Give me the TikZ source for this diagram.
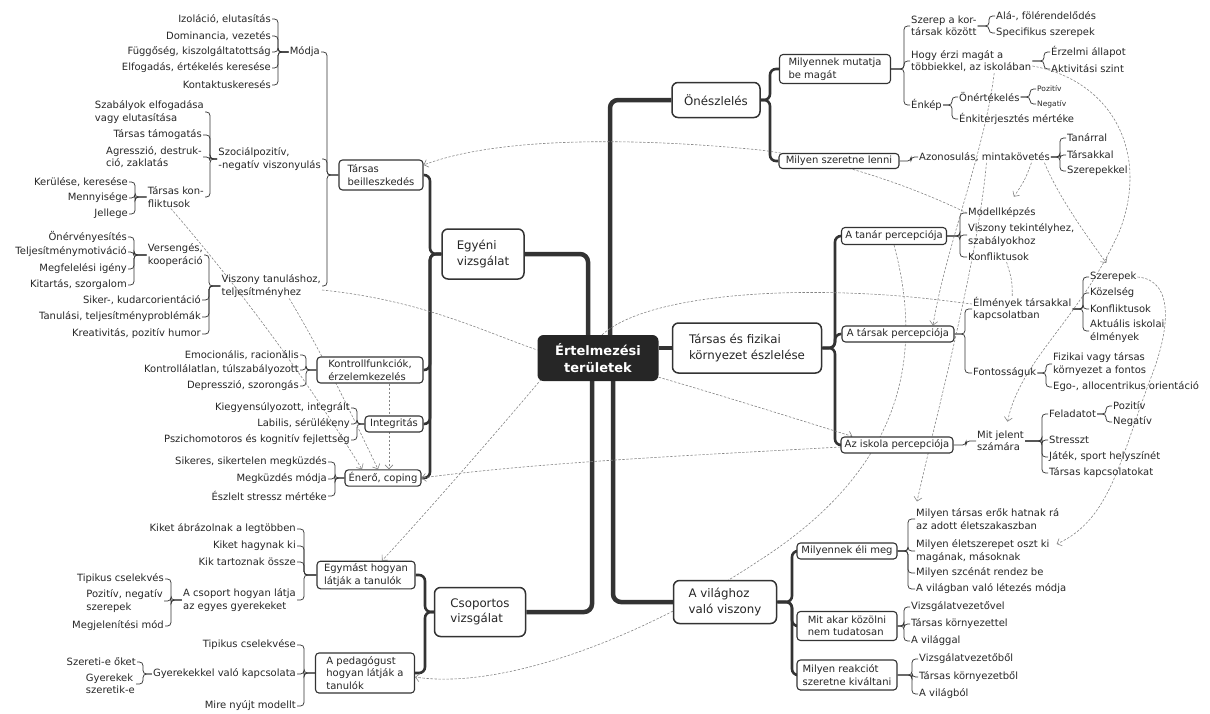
\documentclass[tikz,border=0pt]{standalone}
\usepackage{fontspec}
\setmainfont{DejaVu Sans}
\usetikzlibrary{arrows.meta}
\pgfdeclarelayer{bg}
\pgfsetlayers{bg,main}
\definecolor{ink}{HTML}{262626}
\definecolor{edge}{HTML}{333333}
\definecolor{relc}{HTML}{858585}
\tikzset{
  leaf/.style={inner sep=1pt, font=\fontsize{10}{12.5}\selectfont, text=ink, align=left},
  lR/.style={leaf, anchor=west},
  lL/.style={leaf, anchor=east},
  tinyR/.style={leaf, anchor=west, font=\fontsize{7.5}{9}\selectfont},
  mmbox/.style={draw=edge, line width=1.1pt, rounded corners=3.5pt, fill=white, inner sep=2.5pt,
     font=\fontsize{10}{12.5}\selectfont, text=ink, align=left},
  mmbig/.style={draw=edge, line width=1.5pt, rounded corners=6pt, fill=white,
     font=\fontsize{11.8}{15.5}\selectfont, text=ink, align=left},
  mmcore/.style={fill=ink, rounded corners=6pt, text=white, align=center,
     font=\bfseries\fontsize{13}{17}\selectfont, minimum width=121pt, minimum height=46pt},
  mmtrunk/.style={draw=edge, line width=4.5pt, rounded corners=8pt},
  mmlimb/.style={draw=edge, line width=2.6pt, rounded corners=6pt},
  mmbr/.style={draw=edge, line width=0.75pt, rounded corners=3.5pt},
  reln/.style={draw=relc, line width=0.6pt, dash pattern=on 2.4pt off 1.6pt},
  rel/.style={reln, -{Straight Barb[length=4pt,width=8pt]}},
}
% bracket at absolute x: parent anchor -> vertical bar -> child anchor
\newcommand\mmTwig[3]{\coordinate (bk) at (#1,0);\draw[mmbr] (#2) -- (bk |- #2) |- (#3);}
\newcommand\mmBough[3]{\coordinate (bk) at (#1,0);\draw[mmlimb] (#2) -- (bk |- #2) |- (#3);}

\begin{document}
\begin{tikzpicture}[x=1pt,y=-1pt]
\useasboundingbox (0,0) rectangle (1210,713);

% ---------- centre and first level ----------
\node[mmcore] (cen) at (598,358) {Értelmezési\\területek};
\node[mmbig, minimum width=88pt, minimum height=35pt] (onesz) at (716,100) {Önészlelés};
\node[mmbig, minimum width=82pt, minimum height=50pt] (egy) at (483,254) {Egyéni\\vizsgálat};
\node[mmbig, minimum width=149pt, minimum height=50pt] (tf) at (747,348) {Társas és fizikai\\környezet észlelése};
\node[mmbig, minimum width=91pt, minimum height=49pt] (csop) at (480,612) {Csoportos\\vizsgálat};
\node[mmbig, minimum width=103pt, minimum height=43pt] (vil) at (725,602) {A világhoz\\való viszony};

% ---------- second level boxes ----------
\node[mmbox, minimum width=84pt, minimum height=30pt] (tb) at (381,175) {Társas\\beilleszkedés};
\node[mmbox, minimum width=106pt, minimum height=26pt] (kontr) at (370,370) {Kontrollfunkciók,\\érzelemkezelés};
\node[mmbox, minimum width=58pt, minimum height=16pt] (integ) at (394,424) {Integritás};
\node[mmbox, minimum width=76pt, minimum height=16pt] (ener) at (383,478) {Énerő, coping};
\node[mmbox, minimum width=98pt, minimum height=27pt] (egym) at (366,575) {Egymást hogyan\\látják a tanulók};
\node[mmbox, minimum width=99pt, minimum height=40pt] (ped) at (365,673) {A pedagógust\\hogyan látják a\\tanulók};
\node[mmbox, minimum width=111pt, minimum height=29pt] (mm) at (835,69) {Milyennek mutatja\\be magát};
\node[mmbox, minimum width=120pt, minimum height=15pt] (msz) at (839,161) {Milyen szeretne lenni};
\node[mmbox, minimum width=105pt, minimum height=17pt] (tan) at (894,236) {A tanár percepciója};
\node[mmbox, minimum width=112pt, minimum height=16pt] (tars) at (898,334) {A társak percepciója};
\node[mmbox, minimum width=112pt, minimum height=16pt] (isk) at (897,445) {Az iskola percepciója};
\node[mmbox, minimum width=100pt, minimum height=16pt] (me) at (847,551) {Milyennek éli meg};
\node[mmbox, minimum width=100pt, minimum height=29pt] (mak) at (847,626) {Mit akar közölni\\nem tudatosan};
\node[mmbox, minimum width=100pt, minimum height=30pt] (mr) at (847,675) {Milyen reakciót\\szeretne kiváltani};

% ---------- Önészlelés leaves ----------
\node[lR] (szerep) at (910,26) {Szerep a kor-\\társak között};
\node[lR] (hogy) at (910,61) {Hogy érzi magát a\\többiekkel, az iskolában};
\node[lR] (enkep) at (910,105) {Énkép};
\node[lR] (ala) at (995,16) {Alá-, fölérendelődés};
\node[lR] (spec) at (995,33) {Specifikus szerepek};
\node[lR] (erz) at (1050,52) {Érzelmi állapot};
\node[lR] (akt) at (1050,69) {Aktivitási szint};
\node[lR] (onert) at (958,97) {Önértékelés};
\node[lR] (enkit) at (958,119) {Énkiterjesztés mértéke};
\node[tinyR] (poz1) at (1036,89) {Pozitív};
\node[tinyR] (neg1) at (1036,104) {Negatív};
\node[lR] (azon) at (918,157) {Azonosulás, mintakövetés};
\node[lR] (tanarral) at (1066,138) {Tanárral};
\node[lR] (tarsakkal) at (1066,155) {Társakkal};
\node[lR] (szerepekkel) at (1066,171) {Szerepekkel};

% ---------- környezet leaves ----------
\node[lR] (modell) at (967,213) {Modellképzés};
\node[lR] (visz) at (967,235) {Viszony tekintélyhez,\\szabályokhoz};
\node[lR] (konf1) at (967,257) {Konfliktusok};
\node[lR] (elm) at (972,309) {Élmények társakkal\\kapcsolatban};
\node[lR] (fontos) at (972,373) {Fontosságuk};
\node[lR] (szerepek) at (1089,277) {Szerepek};
\node[lR] (kozel) at (1089,293) {Közelség};
\node[lR] (konf2) at (1089,309) {Konfliktusok};
\node[lR] (aktu) at (1089,331) {Aktuális iskolai\\élmények};
\node[lR] (fiz) at (1052,364) {Fizikai vagy társas\\környezet a fontos};
\node[lR] (ego) at (1052,387) {Ego-, allocentrikus orientáció};
\node[lR] (mitj) at (976,441) {Mit jelent\\számára};
\node[lR] (felad) at (1048,414) {Feladatot};
\node[lR] (stressz) at (1048,440) {Stresszt};
\node[lR] (jatek) at (1048,457) {Játék, sport helyszínét};
\node[lR] (tkapcs) at (1048,473) {Társas kapcsolatokat};
\node[lR] (poz2) at (1112,406) {Pozitív};
\node[lR] (neg2) at (1112,422) {Negatív};

% ---------- világhoz leaves ----------
\node[lR] (ero) at (915,519) {Milyen társas erők hatnak rá\\az adott életszakaszban};
\node[lR] (elet) at (915,551) {Milyen életszerepet oszt ki\\magának, másoknak};
\node[lR] (szcena) at (915,573) {Milyen szcénát rendez be};
\node[lR] (letezes) at (915,589) {A világban való létezés módja};
\node[lR] (vizsg1) at (910,607) {Vizsgálatvezetővel};
\node[lR] (tkorny1) at (910,624) {Társas környezettel};
\node[lR] (vilaggal) at (910,641) {A világgal};
\node[lR] (vizsg2) at (918,659) {Vizsgálatvezetőből};
\node[lR] (tkorny2) at (918,677) {Társas környezetből};
\node[lR] (vilagbol) at (918,694) {A világból};

% ---------- egyéni vizsgálat leaves ----------
\node[lL] (modja) at (321,52) {Módja};
\node[lL] (izol) at (272,19) {Izoláció, elutasítás};
\node[lL] (dom) at (272,36) {Dominancia, vezetés};
\node[lL] (fugg) at (272,52) {Függőség, kiszolgáltatottság};
\node[lL] (elfog) at (272,68) {Elfogadás, értékelés keresése};
\node[lL] (kontakt) at (272,85) {Kontaktuskeresés};
\node[lL] (szoc) at (322,159) {Szociálpozitív,\\-negatív viszonyulás};
\node[lL] (szab) at (205,112) {Szabályok elfogadása\\vagy elutasítása};
\node[lL] (tamog) at (203,135) {Társas támogatás};
\node[lL] (agr) at (203,157) {Agresszió, destruk-\\ció, zaklatás};
\node[lL] (tkonf) at (205,197) {Társas kon-\\fliktusok};
\node[lL] (kerul) at (129,182) {Kerülése, keresése};
\node[lL] (menny) at (129,198) {Mennyisége};
\node[lL] (jell) at (129,214) {Jellege};
\node[lL] (visztan) at (322,286) {Viszony tanuláshoz,\\teljesítményhez};
\node[lL] (vers) at (204,255) {Versengés,\\kooperáció};
\node[lL] (onerv) at (128,237) {Önérvényesítés};
\node[lL] (telj) at (128,252) {Teljesítménymotiváció};
\node[lL] (megf) at (128,269) {Megfelelési igény};
\node[lL] (kitart) at (128,285) {Kitartás, szorgalom};
\node[lL] (siker) at (202,300) {Siker-, kudarcorientáció};
\node[lL] (tanprob) at (202,317) {Tanulási, teljesítményproblémák};
\node[lL] (kreat) at (202,334) {Kreativitás, pozitív humor};
\node[lL] (emoc) at (300,355) {Emocionális, racionális};
\node[lL] (kontrollal) at (300,370) {Kontrollálatlan, túlszabályozott};
\node[lL] (depr) at (300,386) {Depresszió, szorongás};
\node[lL] (kiegy) at (351,408) {Kiegyensúlyozott, integrált};
\node[lL] (labil) at (351,424) {Labilis, sérülékeny};
\node[lL] (pszich) at (351,440) {Pszichomotoros és kognitív fejlettség};
\node[lL] (sikeres) at (328,462) {Sikeres, sikertelen megküzdés};
\node[lL] (megkuzd) at (328,479) {Megküzdés módja};
\node[lL] (eszlelt) at (328,496) {Észlelt stressz mértéke};

% ---------- csoportos vizsgálat leaves ----------
\node[lL] (kiket1) at (297,529) {Kiket ábrázolnak a legtöbben};
\node[lL] (hagy) at (297,546) {Kiket hagynak ki};
\node[lL] (ossze) at (297,562) {Kik tartoznak össze};
\node[lL] (csopl) at (297,600) {A csoport hogyan látja\\az egyes gyerekeket};
\node[lL] (tipc) at (165,579) {Tipikus cselekvés};
\node[lL] (pozneg) at (164,601) {Pozitív, negatív\\szerepek};
\node[lL] (megj) at (165,626) {Megjelenítési mód};
\node[lL] (tipc2) at (297,645) {Tipikus cselekvése};
\node[lL] (gyer) at (297,674) {Gyerekekkel való kapcsolata};
\node[lL] (mire) at (297,706) {Mire nyújt modellt};
\node[lL] (szer) at (137,662) {Szereti-e őket};
\node[lL] (gysz) at (136,684) {Gyerekek\\szeretik-e};

\begin{pgfonlayer}{bg}
% ---------- main branches ----------
\draw[mmtrunk] ([xshift=12pt]cen.north) |- (onesz.west);
\draw[mmtrunk] ([xshift=-10pt]cen.north) |- (egy.east);
\draw[mmtrunk] ([xshift=-6pt]cen.south) |- (csop.east);
\draw[mmtrunk] ([xshift=15pt]cen.south) |- (vil.west);
\draw[mmtrunk] (cen.east |- tf.west) -- (tf.west);

% ---------- second level branches ----------
\foreach \c in {tb,kontr,integ,ener} {\mmBough{430}{egy.west}{\c.east}}
\foreach \c in {egym,ped} {\mmBough{425}{csop.west}{\c.east}}
\foreach \c in {mm,msz} {\mmBough{770}{onesz.east}{\c.west}}
\foreach \c in {tan,tars,isk} {\mmBough{835}{tf.east}{\c.west}}
\foreach \c in {me,mak,mr} {\mmBough{792}{vil.east}{\c.west}}

% ---------- brackets, right side ----------
\foreach \c in {szerep,hogy,enkep} {\mmTwig{904}{mm.east}{\c.west}}
\foreach \c in {ala,spec} {\mmTwig{989}{szerep.east}{\c.west}}
\foreach \c in {erz,akt} {\mmTwig{1044}{hogy.east}{\c.west}}
\foreach \c in {onert,enkit} {\mmTwig{952}{enkep.east}{\c.west}}
\foreach \c in {poz1,neg1} {\mmTwig{1030}{onert.east}{\c.west}}
\mmTwig{911}{msz.east}{azon.west}
\foreach \c in {tanarral,tarsakkal,szerepekkel} {\mmTwig{1060}{azon.east}{\c.west}}
\foreach \c in {modell,visz,konf1} {\mmTwig{960}{tan.east}{\c.west}}
\foreach \c in {elm,fontos} {\mmTwig{965}{tars.east}{\c.west}}
\foreach \c in {szerepek,kozel,konf2,aktu} {\mmTwig{1083}{elm.east}{\c.west}}
\foreach \c in {fiz,ego} {\mmTwig{1046}{fontos.east}{\c.west}}
\mmTwig{966}{isk.east}{mitj.west}
\foreach \c in {felad,stressz,jatek,tkapcs} {\mmTwig{1042}{mitj.east}{\c.west}}
\foreach \c in {poz2,neg2} {\mmTwig{1106}{felad.east}{\c.west}}
\foreach \c in {ero,elet,szcena,letezes} {\mmTwig{908}{me.east}{\c.west}}
\foreach \c in {vizsg1,tkorny1,vilaggal} {\mmTwig{904}{mak.east}{\c.west}}
\foreach \c in {vizsg2,tkorny2,vilagbol} {\mmTwig{912}{mr.east}{\c.west}}

% ---------- brackets, left side ----------
\foreach \c in {modja,szoc,visztan} {\mmTwig{327}{tb.west}{\c.east}}
\foreach \c in {izol,dom,fugg,elfog,kontakt} {\mmTwig{278}{modja.west}{\c.east}}
\foreach \c in {szab,tamog,agr,tkonf} {\mmTwig{210}{szoc.west}{\c.east}}
\foreach \c in {kerul,menny,jell} {\mmTwig{135}{tkonf.west}{\c.east}}
\foreach \c in {vers,siker,tanprob,kreat} {\mmTwig{209}{visztan.west}{\c.east}}
\foreach \c in {onerv,telj,megf,kitart} {\mmTwig{134}{vers.west}{\c.east}}
\foreach \c in {emoc,kontrollal,depr} {\mmTwig{306}{kontr.west}{\c.east}}
\foreach \c in {kiegy,labil,pszich} {\mmTwig{357}{integ.west}{\c.east}}
\foreach \c in {sikeres,megkuzd,eszlelt} {\mmTwig{335}{ener.west}{\c.east}}
\foreach \c in {kiket1,hagy,ossze,csopl} {\mmTwig{304}{egym.west}{\c.east}}
\foreach \c in {tipc,pozneg,megj} {\mmTwig{171}{csopl.west}{\c.east}}
\foreach \c in {tipc2,gyer,mire} {\mmTwig{304}{ped.west}{\c.east}}
\foreach \c in {szer,gysz} {\mmTwig{143}{gyer.west}{\c.east}}

% ---------- cross relations ----------
\draw[rel] (modell.west) .. controls (915,188) and (840,160) .. (760,150)
   .. controls (640,138) and (500,136) .. ([yshift=10pt]tb.east);
\draw[reln] ([yshift=-4pt]visztan.east) .. controls (420,300) and (480,330) .. ([yshift=8pt]cen.west);
\draw[rel] ([xshift=-5pt]tkonf.south) .. controls (250,300) and (320,400) .. ([xshift=-21pt]ener.north);
\draw[rel] ([xshift=18pt]visztan.south) .. controls (320,350) and (345,400) .. ([xshift=-5pt]ener.north);
\draw[rel] ([xshift=19pt]kontr.south) -- ([xshift=6pt]ener.north);
\draw[rel] ([xshift=4pt,yshift=2pt]cen.south west) .. controls (490,440) and (420,520) .. ([xshift=16pt]egym.north);
\draw[rel] ([yshift=-2pt]isk.west) .. controls (700,455) and (540,462) .. (ener.east);
\draw[rel] ([yshift=4pt]cen.south east) .. controls (720,395) and (800,420) .. ([xshift=12pt]isk.north west);
\draw[reln] ([xshift=4pt]cen.north) .. controls (640,300) and (760,285) .. (900,296)
   .. controls (935,299) and (955,302) .. ([yshift=5pt]elm.west);
\draw[rel] (tan.south) .. controls (925,360) and (900,470) .. (760,560)
   .. controls (640,640) and (500,690) .. ([yshift=-4pt]ped.east);
\draw[rel] ([xshift=23pt]hogy.south) .. controls (985,150) and (945,250) .. ([xshift=35pt]tars.north);
\draw[rel] ([xshift=47pt]azon.south) .. controls (1025,180) .. ([xshift=12pt,yshift=10pt]modell.north);
\draw[rel] ([xshift=60pt]azon.south) .. controls (1060,200) and (1090,240) .. ([xshift=-7pt,yshift=8pt]szerepek.north);
\draw[rel] ([xshift=2pt]azon.south) .. controls (978,260) and (935,420) .. ([xshift=2pt,yshift=6pt]ero.north west);
\draw[rel] ([yshift=-5pt]hogy.east) .. controls (1110,80) and (1150,150) .. (1120,230)
   .. controls (1080,320) and (1020,360) .. ([xshift=7pt,yshift=8pt]mitj.north);
\draw[rel] (szerepek.east) .. controls (1175,280) and (1170,330) .. (1150,380)
   .. controls (1120,460) and (1110,520) .. ([xshift=6pt,yshift=7pt]elet.east);
\draw[reln] ([xshift=8pt]konf1.south) .. controls (1012,280) .. ([xshift=-10pt]elm.north);
\end{pgfonlayer}
\end{tikzpicture}
\end{document}
